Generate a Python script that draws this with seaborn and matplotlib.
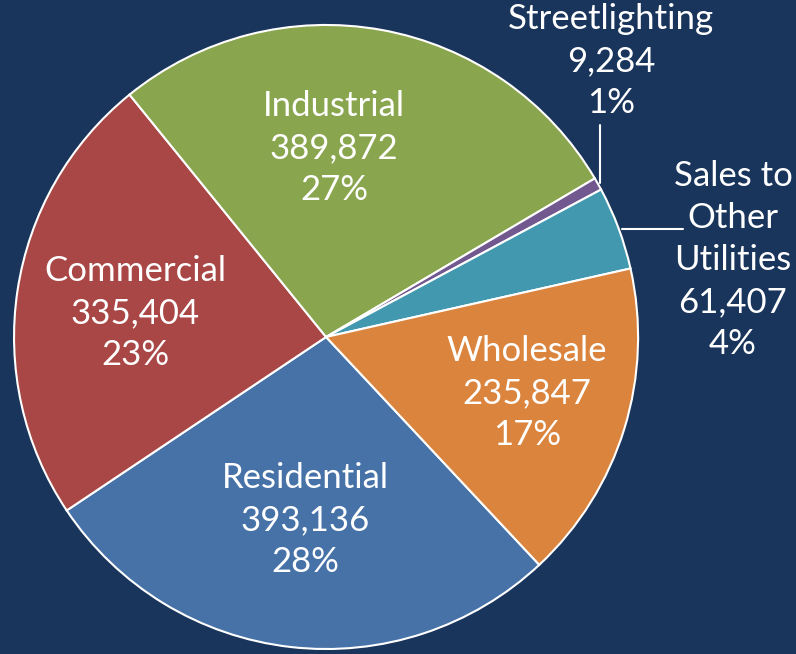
import matplotlib
matplotlib.use("Agg")
import matplotlib.pyplot as plt
import seaborn as sns

# sales by customer class
categories = ["Residential", "Commercial", "Industrial", "Streetlighting",
              "Sales to\nOther\nUtilities", "Wholesale"]
values = [393136, 335404, 389872, 9284, 61407, 235847]
percents = [28, 23, 27, 1, 4, 17]
colors = ["#4672A8", "#A84745", "#89A54E", "#71588F", "#4198AF", "#DB843D"]
bg = "#1A355C"

sns.set_style("white")
plt.rcParams["font.family"] = ["Lato", "DejaVu Sans"]

fig = plt.figure(figsize=(7.96, 6.54), dpi=100, facecolor=bg)
ax = fig.add_axes([0, 0, 1, 1])
ax.set_facecolor(bg)

wedges, _ = ax.pie(values, colors=colors, startangle=-46.9, counterclock=False,
                   radius=1.0, center=(0, 0),
                   wedgeprops=dict(edgecolor="white", linewidth=1.5))

ax.set_aspect("auto")
ax.set_xlim(-1.045, 1.506)
ax.set_ylim(-1.016, 1.080)
ax.axis("off")

def lab(i):
    return f"{categories[i]}\n{values[i]:,}\n{percents[i]}%"

txt = dict(color="white", fontsize=25, ha="center", va="center", linespacing=1.38)

# labels inside the wedges
ax.text(-0.067, -0.587, lab(0), **txt)
ax.text(-0.612, 0.077, lab(1), **txt)
ax.text(0.026, 0.606, lab(2), **txt)
ax.text(0.644, -0.179, lab(5), **txt)

# outside labels with leader lines
ax.text(0.913, 0.885, lab(3), **txt)
ax.plot([0.878, 0.878], [0.494, 0.679], color="white", lw=1.5)
ax.text(1.304, 0.247, lab(4), **txt)
ax.plot([0.949, 1.144], [0.346, 0.346], color="white", lw=1.5)

fig.savefig("out.png", dpi=100, facecolor=bg)
